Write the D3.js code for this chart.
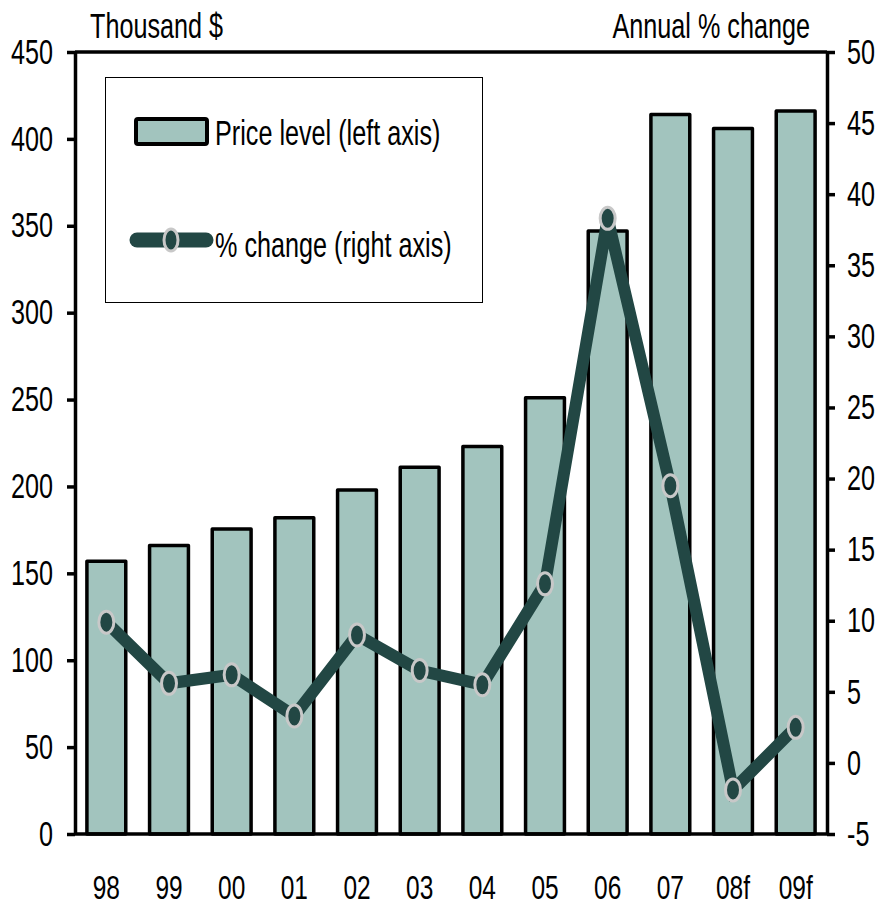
<!DOCTYPE html>
<html><head><meta charset="utf-8">
<script src="https://cdn.jsdelivr.net/npm/d3@7"></script>
<style>body{margin:0;background:#fff} svg text{font-family:"Liberation Sans",Arial,sans-serif;}</style>
</head><body><svg id="c" width="877" height="908"></svg>
<script>
const categories = ["98","99","00","01","02","03","04","05","06","07","08f","09f"];
const priceLevel = [157,166,175.5,182,198,211,223,251,347,414,406,416];
const pctChange = [9.9,5.6,6.2,3.3,9.0,6.5,5.5,12.6,38.3,19.5,-1.9,2.5];
const leftTicks = [0,50,100,150,200,250,300,350,400,450];
const rightTicks = [-5,0,5,10,15,20,25,30,35,40,45,50];
const leftTitle = "Thousand $";
const rightTitle = "Annual % change";
const legendLabels = ["Price level (left axis)", "% change (right axis)"];

const SX = 0.72, FS = 35;
const BAR = "#a2c4be", LINE = "#224744", RING = "#c8c8c8";
const L = 75, R = 827, T = 52, B = 834;

const svg = d3.select("#c");
const x = d3.scaleBand().domain(categories).range([L, R]).paddingInner(0.38).paddingOuter(0.19);
const yL = d3.scaleLinear().domain([0, 450]).range([B, T]);
const yR = d3.scaleLinear().domain([-5, 50]).range([B, T]);

function ctext(g, str, tx, ty, anchor, size) {
  return g.append("text").attr("transform", `translate(${tx},${ty}) scale(${SX},1)`)
    .attr("text-anchor", anchor).attr("font-size", size || FS).attr("fill", "#000").text(str);
}

// bars
svg.append("g").selectAll("rect").data(categories).join("rect")
  .attr("x", d => x(d)).attr("width", x.bandwidth())
  .attr("y", (d, i) => yL(priceLevel[i])).attr("height", (d, i) => B - yL(priceLevel[i]))
  .attr("fill", BAR).attr("stroke", "#000").attr("stroke-width", 3.5).attr("stroke-linejoin", "round");

// frame lines top/bottom
svg.append("line").attr("x1", L).attr("x2", R).attr("y1", T).attr("y2", T).attr("stroke", "#000").attr("stroke-width", 3.5);
svg.append("line").attr("x1", L).attr("x2", R).attr("y1", B).attr("y2", B).attr("stroke", "#000").attr("stroke-width", 3.5);

// left axis
const gL = svg.append("g").attr("transform", `translate(${L},0)`)
  .call(d3.axisLeft(yL).tickValues(leftTicks).tickFormat(d => String(d)).tickSize(8).tickSizeOuter(0));
gL.attr("font-family", null).attr("font-size", null);
gL.select(".domain").attr("stroke-width", 3.5);
gL.selectAll(".tick line").attr("stroke-width", 3.5);
gL.selectAll(".tick text").attr("x", -22 / SX).attr("transform", `scale(${SX},1)`)
  .attr("font-size", FS).attr("fill", "#000");

// right axis
const gR = svg.append("g").attr("transform", `translate(${R},0)`)
  .call(d3.axisRight(yR).tickValues(rightTicks).tickFormat(d => String(d)).tickSize(8).tickSizeOuter(0));
gR.attr("font-family", null).attr("font-size", null);
gR.select(".domain").attr("stroke-width", 3.5);
gR.selectAll(".tick line").attr("stroke-width", 3.5);
gR.selectAll(".tick text").attr("x", 20 / SX).attr("transform", `scale(${SX},1)`)
  .attr("font-size", FS).attr("fill", "#000");

// bottom axis labels
const gB = svg.append("g").attr("transform", `translate(0,${B})`)
  .call(d3.axisBottom(x).tickSize(0));
gB.attr("font-family", null).attr("font-size", null);
gB.select(".domain").remove();
gB.selectAll(".tick text").attr("y", 65).attr("dy", null).attr("transform", `scale(${SX},1)`)
  .attr("font-size", 34).attr("fill", "#000");

// titles
ctext(svg, leftTitle, 90, 38, "start");
ctext(svg, rightTitle, 810, 38, "end");

// legend
const lg = svg.append("g");
lg.append("rect").attr("x", 105.5).attr("y", 77.5).attr("width", 377).attr("height", 225)
  .attr("fill", "#fff").attr("stroke", "#000").attr("stroke-width", 1);
lg.append("rect").attr("x", 136).attr("y", 119).attr("width", 71).attr("height", 25).attr("rx", 2)
  .attr("fill", BAR).attr("stroke", "#000").attr("stroke-width", 4);
ctext(lg, legendLabels[0], 215, 145, "start");
lg.append("line").attr("x1", 137).attr("x2", 206).attr("y1", 240).attr("y2", 240)
  .attr("stroke", LINE).attr("stroke-width", 15).attr("stroke-linecap", "round");
lg.append("ellipse").attr("cx", 171).attr("cy", 240).attr("rx", 7).attr("ry", 11)
  .attr("fill", LINE).attr("stroke", RING).attr("stroke-width", 3);
ctext(lg, legendLabels[1], 215, 257, "start");

// line
const cx = d => x(d) + x.bandwidth() / 2;
const line = d3.line().x(d => cx(d)).y((d, i) => yR(pctChange[i]));
svg.append("path").datum(categories).attr("d", line).attr("fill", "none")
  .attr("stroke", LINE).attr("stroke-width", 12).attr("stroke-linejoin", "miter").attr("stroke-miterlimit", 2.2);
svg.append("g").selectAll("ellipse").data(categories).join("ellipse")
  .attr("cx", d => cx(d)).attr("cy", (d, i) => yR(pctChange[i]))
  .attr("rx", 7.5).attr("ry", 11)
  .attr("fill", LINE).attr("stroke", RING).attr("stroke-width", 3);
</script></body></html>
